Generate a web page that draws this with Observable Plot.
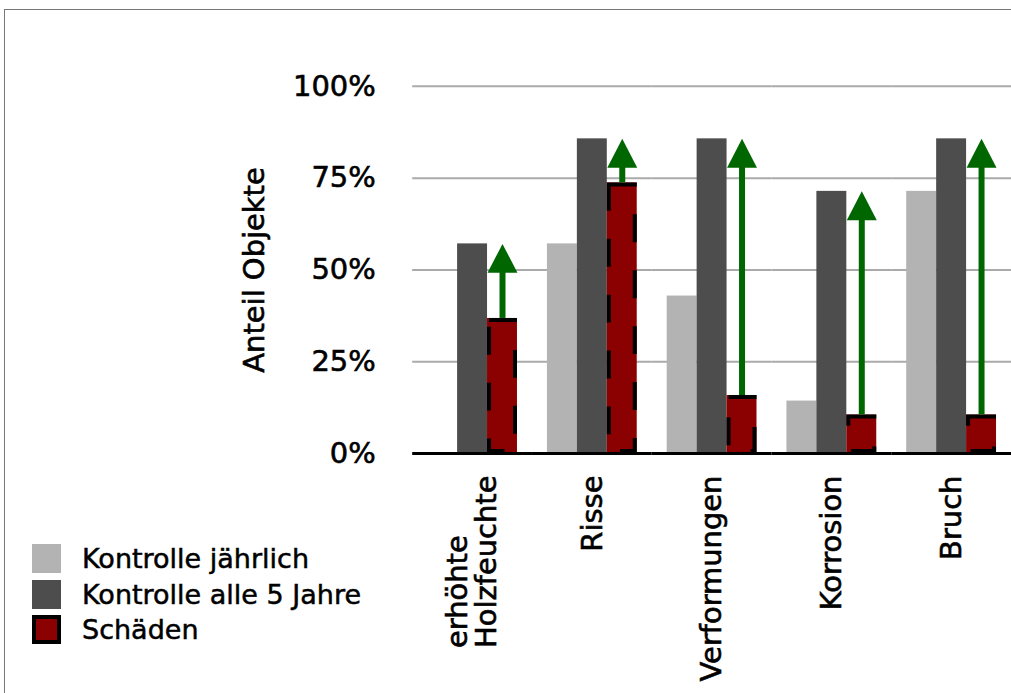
<!DOCTYPE html>
<html>
<head>
<meta charset="utf-8">
<script src="https://cdn.jsdelivr.net/npm/d3@7"></script>
<script src="https://cdn.jsdelivr.net/npm/@observablehq/plot@0.6"></script>
<style>
  html, body { margin: 0; padding: 0; background: #fff; width: 1011px; height: 693px; overflow: hidden; }
  #frame { position: absolute; left: 4px; top: 9px; width: 1100px; height: 800px;
           border-top: 1px solid #777; border-left: 1px solid #777; }
  #chart { position: absolute; left: 0; top: 0; }
  #chart text { stroke: #000; stroke-width: 0.6px; }
  #legend { position: absolute; left: 32px; top: 541px; font-family: "DejaVu Sans", sans-serif;
            font-size: 27px; color: #000; -webkit-text-stroke: 0.5px #000; }
  .row { display: flex; align-items: center; height: 35.5px; white-space: nowrap; }
  .sw { width: 29px; height: 29px; box-sizing: border-box; margin-right: 21px; flex: none; }
</style>
</head>
<body>
<div id="frame"></div>
<div id="chart"></div>
<div id="legend"></div>
<script>
// Schadensbilder und Kontrollintervalle
const categories = ["erhöhte Holzfeuchte", "Risse", "Verformungen", "Korrosion", "Bruch"];
const series = ["Kontrolle jährlich", "Kontrolle alle 5 Jahre", "Schäden"];
const yearly   = [0, 0.571, 0.429, 0.143, 0.714];
const fiveYear = [0.571, 0.857, 0.857, 0.714, 0.857];
const damages  = [0.368, 0.737, 0.158, 0.105, 0.105];
const yTicks = [0, 0.25, 0.5, 0.75, 1];
const colors = ["#b3b3b3", "#4d4d4d", "#8b0000"];

const rows = categories.flatMap((c, i) => [
  {category: c, series: series[0], value: yearly[i]},
  {category: c, series: series[1], value: fiveYear[i]},
  {category: c, series: series[2], value: damages[i]}
]);
const damageRows = rows.filter(d => d.series === series[2]);
// arrows: from the damage share up to the 5-year control share
const arrows = categories.map((c, i) => ({category: c, series: series[2], from: damages[i], to: fiveYear[i]}));

// filled arrowhead with its tip at the origin, pointing up
const arrowHead = {
  draw(context) {
    context.moveTo(0, 0);
    context.lineTo(15, 29);
    context.lineTo(-15, 29);
    context.closePath();
  }
};

const green = "#006600";

const svg = Plot.plot({
  width: 1013,
  height: 693,
  marginLeft: 413,
  marginRight: 0,
  marginTop: 86,
  marginBottom: 239,
  style: {fontFamily: '"DejaVu Sans", sans-serif', fontSize: "29px", color: "#000", background: "transparent", overflow: "visible"},
  fx: {domain: categories, padding: 0, label: null},
  x: {domain: series, paddingInner: 0, paddingOuter: 0.5, axis: null},
  y: {domain: [0, 1]},
  color: {domain: series, range: colors},
  marks: [
    Plot.ruleY(yTicks.filter(d => d > 0), {stroke: "#aaaaaa", strokeWidth: 2}),
    Plot.barY(rows, {fx: "category", x: "series", y: "value", fill: "series"}),
    Plot.barY(damageRows, {fx: "category", x: "series", y: "value", fill: "#8b0000",
      stroke: "#000", strokeWidth: 4, strokeDasharray: "28,28", inset: 2}),
    Plot.ruleY([0], {stroke: "#000", strokeWidth: 3}),
    // shaft stops below the tip so the head stays pointed
    Plot.ruleX(arrows, {fx: "category", x: "series", y1: "to", y2: "from",
      stroke: green, strokeWidth: 6, insetTop: 24}),
    Plot.dot(arrows, {fx: "category", x: "series", y: "to", symbol: arrowHead, r: 1, fill: green, stroke: "none"}),
    Plot.axisY({ticks: yTicks, tickFormat: d3.format(".0%"), tickSize: 0, tickPadding: 37, fontSize: 29,
      label: "Anteil Objekte", labelAnchor: "center", labelOffset: 170, labelArrow: false}),
    Plot.axisFx({anchor: "bottom", tickRotate: -90, tickSize: 0, tickPadding: 22, fontSize: 29,
      tickFormat: d => d.split(" ").join("\n"), label: null})
  ]
});

document.getElementById("chart").appendChild(svg);

// multi-line category labels: lines share their starting point
d3.select(svg).selectAll("text").each(function () {
  const spans = Array.from(this.querySelectorAll("tspan"));
  if (spans.length < 2) return;
  const len = d3.max(spans, s => s.getComputedTextLength());
  this.setAttribute("text-anchor", "start");
  spans.forEach(s => s.setAttribute("x", -len));
});

// legend
const legend = d3.select("#legend");
series.forEach((s, i) => {
  const row = legend.append("div").attr("class", "row");
  const sw = row.append("div").attr("class", "sw").style("background", colors[i]);
  if (i === 2) sw.style("border", "4px solid #000");
  row.append("span").text(s);
});
</script>
</body>
</html>
